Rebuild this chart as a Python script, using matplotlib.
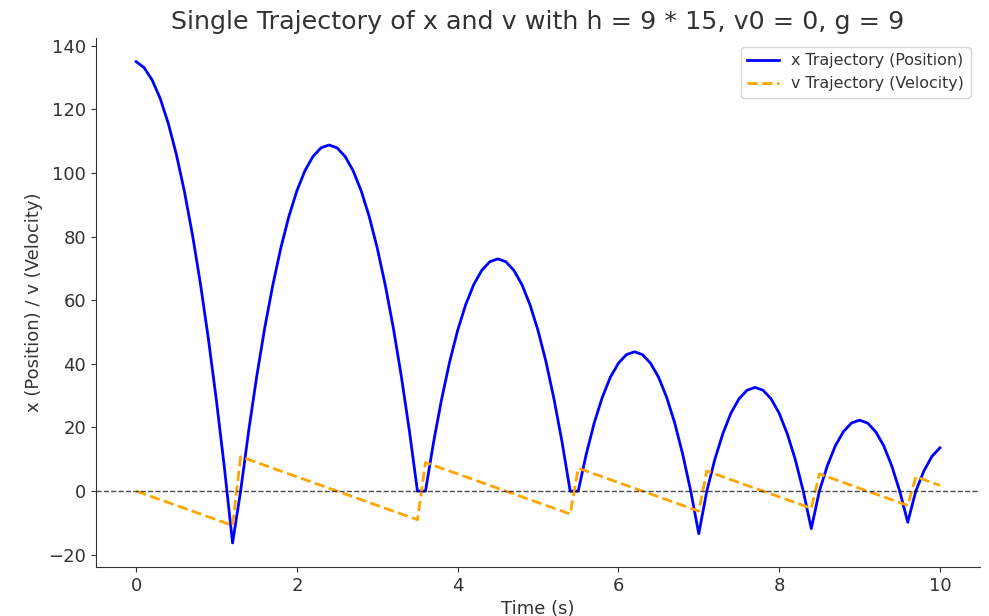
import matplotlib
matplotlib.use("Agg")
import matplotlib.pyplot as plt

# time grid, step 0.1 s
t = [round(0.1 * i, 1) for i in range(101)]

# position samples per bounce arc
x = [135.0, 133.1, 129.2, 123.4, 115.6, 105.9, 94.3, 80.7, 65.2, 47.7, 28.3, 7.0, -16.3,
     0.0, 18.9, 36.0, 51.3, 64.7, 76.4, 86.3, 94.4, 100.7, 105.2, 107.9, 108.8,
     107.9, 105.2, 100.7, 94.4, 86.3, 76.4, 64.7, 51.3, 36.0, 18.9, 0.0,
     0.0, 15.3, 28.8, 40.6, 50.5, 58.6, 64.9, 69.4, 72.1, 73.0,
     72.1, 69.4, 64.9, 58.6, 50.5, 40.6, 28.8, 15.3, 0.0,
     0.0, 11.6, 21.5, 29.5, 35.8, 40.2, 42.9, 43.8, 42.9, 40.2, 35.8, 29.5, 21.5, 11.6, 0.0, -13.4,
     0.0, 10.0, 18.1, 24.5, 29.0, 31.7, 32.6, 31.7, 29.0, 24.5, 18.1, 10.0, 0.0, -11.8,
     0.0, 8.0, 14.3, 18.7, 21.4, 22.3, 21.4, 18.7, 14.3, 8.0, 0.0, -9.8,
     0.0, 6.3, 10.9, 13.6]

# velocity samples (sawtooth, flips sign at each bounce)
v = [0.0, -0.9, -1.8, -2.7, -3.6, -4.5, -5.4, -6.3, -7.2, -8.1, -9.0, -9.9, -10.8,
     10.8, 9.9, 9.0, 8.1, 7.2, 6.3, 5.4, 4.5, 3.6, 2.7, 1.8, 0.9, 0.0,
     -0.9, -1.8, -2.7, -3.6, -4.5, -5.4, -6.3, -7.2, -8.1, -9.0,
     9.0, 8.1, 7.2, 6.3, 5.4, 4.5, 3.6, 2.7, 1.8, 0.9, 0.0,
     -0.9, -1.8, -2.7, -3.6, -4.5, -5.4, -6.3, -7.2,
     7.2, 6.3, 5.4, 4.5, 3.6, 2.7, 1.8, 0.9, 0.0, -0.9, -1.8, -2.7, -3.6, -4.5, -5.4, -6.3,
     6.3, 5.4, 4.5, 3.6, 2.7, 1.8, 0.9, 0.0, -0.9, -1.8, -2.7, -3.6, -4.5, -5.4,
     5.4, 4.5, 3.6, 2.7, 1.8, 0.9, 0.0, -0.9, -1.8, -2.7, -3.6, -4.5,
     4.5, 3.6, 2.7, 1.8]

TXT = "#333333"
plt.rcParams.update({"text.color": TXT, "axes.labelcolor": TXT,
                     "xtick.color": TXT, "ytick.color": TXT,
                     "axes.edgecolor": TXT})

fig = plt.figure(figsize=(9.89, 6.16), dpi=100)
ax = fig.add_axes([0.097, 0.0795, 0.894, 0.8595])

ax.plot(t, x, color="#0000FF", lw=2, label="x Trajectory (Position)")
ax.plot(t, v, color="orange", lw=2, ls="--", label="v Trajectory (Velocity)")
ax.axhline(0, color="black", lw=1, ls="--", alpha=0.7)

ax.set_title("Single Trajectory of x and v with h = 9 * 15, v0 = 0, g = 9", fontsize=18.3, pad=6)
ax.set_xlabel("Time (s)", fontsize=13)
ax.set_ylabel("x (Position) / v (Velocity)", fontsize=13)
ax.tick_params(labelsize=13)
ax.spines["top"].set_visible(False)
ax.spines["right"].set_visible(False)
ax.legend(loc="upper right", fontsize=11.4, borderaxespad=0.6)

fig.savefig("out.png", dpi=100)
